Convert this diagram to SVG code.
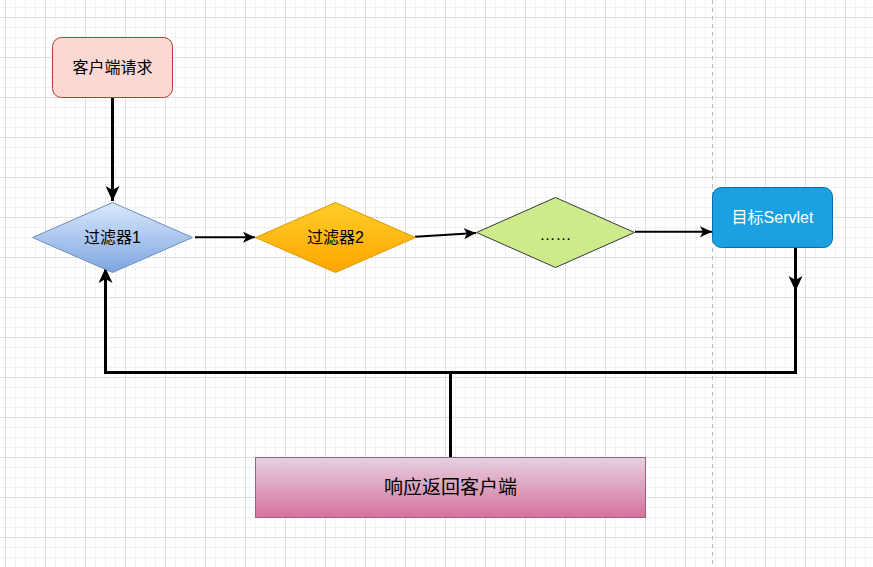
<svg xmlns="http://www.w3.org/2000/svg" width="873" height="567" viewBox="0 0 873 567">
<style>
.lbl{font-family:"Liberation Sans","Noto Sans CJK SC",sans-serif;font-size:16px;fill:#000;text-anchor:middle;dominant-baseline:central}
.thick{fill:none;stroke:#000;stroke-width:3}
.thin{fill:none;stroke:#000;stroke-width:2}
</style>
<defs>
<pattern id="minor" x="5" y="7" width="10" height="10" patternUnits="userSpaceOnUse">
<path d="M0.5 0V10M0 0.5H10" stroke="#f2f2f2" stroke-width="1" fill="none"/>
</pattern>
<pattern id="major" x="5" y="17" width="40" height="40" patternUnits="userSpaceOnUse">
<path d="M0.5 0V40M0 0.5H40" stroke="#e0e0e0" stroke-width="1" fill="none"/>
</pattern>
<linearGradient id="gBlue" x1="0" y1="0" x2="0" y2="1"><stop offset="0" stop-color="#dae8fc"/><stop offset="1" stop-color="#7ea6e0"/></linearGradient>
<linearGradient id="gOrange" x1="0" y1="0" x2="0" y2="1"><stop offset="0" stop-color="#ffcd28"/><stop offset="1" stop-color="#ffa500"/></linearGradient>
<linearGradient id="gPink" x1="0" y1="0" x2="0" y2="1"><stop offset="0" stop-color="#e6d0de"/><stop offset="1" stop-color="#d5739d"/></linearGradient>
<marker id="arrBig" markerUnits="userSpaceOnUse" markerWidth="16" markerHeight="16" viewBox="0 0 16 14" refX="15" refY="7" orient="auto">
<path d="M0 0L15 7L0 14L4 7Z" fill="#000"/>
</marker>
<marker id="arrSmall" markerUnits="userSpaceOnUse" markerWidth="13" markerHeight="12" viewBox="0 0 13 11" refX="12" refY="5.5" orient="auto">
<path d="M0 0L12 5.5L0 11L3 5.5Z" fill="#000"/>
</marker>
</defs>
<rect width="873" height="567" fill="#fff"/>
<rect width="873" height="567" fill="url(#minor)"/>
<rect width="873" height="567" fill="url(#major)"/>
<line x1="712.5" y1="0" x2="712.5" y2="567" stroke="#bbb" stroke-width="1" stroke-dasharray="4 4"/>

<g id="connectors">
<path class="thick" d="M112.5 97.5V201" marker-end="url(#arrBig)"/>
<path class="thin" d="M195 237.3H255" marker-end="url(#arrSmall)"/>
<path class="thin" d="M415 236.7L476 233" marker-end="url(#arrSmall)"/>
<path class="thin" d="M635 231.8H712" marker-end="url(#arrSmall)"/>
<path class="thick" d="M795.5 247.5V291" marker-end="url(#arrBig)"/>
<path class="thick" d="M795.5 290V372.5H105.5V268" marker-end="url(#arrBig)"/>
<path class="thick" d="M450.5 457.5V372.5"/>
</g>

<g id="client">
<rect x="52.5" y="37.5" width="120" height="60" rx="9" fill="#fad9d5" stroke="#ae4132"/>
<text class="lbl" x="112.5" y="67.5">客户端请求</text>
</g>
<g id="filter1">
<path d="M32.5 237.5L112.5 202.5L192.5 237.5L112.5 272.5Z" fill="url(#gBlue)" stroke="#6c8ebf"/>
<text class="lbl" x="112.5" y="237.5">过滤器1</text>
</g>
<g id="filter2">
<path d="M255.5 237.5L335.5 202.5L415.5 237.5L335.5 272.5Z" fill="url(#gOrange)" stroke="#d79b00"/>
<text class="lbl" x="335.5" y="237.5">过滤器2</text>
</g>
<g id="filterN">
<path d="M476.5 232.5L555.5 197.5L634.5 232.5L555.5 267.5Z" fill="#cdeb8b" stroke="#36393d"/>
<text class="lbl" x="555.5" y="234">……</text>
</g>
<g id="servlet">
<rect x="712.5" y="187.5" width="120" height="60" rx="9" fill="#1ba1e2" stroke="#006eaf"/>
<text class="lbl" x="772.5" y="217.5" style="fill:#fff">目标Servlet</text>
</g>
<g id="response">
<rect x="255.5" y="457.5" width="390" height="60" fill="url(#gPink)" stroke="#996185"/>
<text class="lbl" x="450.5" y="487.5" style="font-size:19px">响应返回客户端</text>
</g>
</svg>
